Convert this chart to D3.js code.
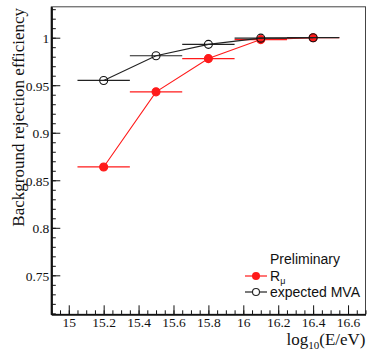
<!DOCTYPE html>
<html><head><meta charset="utf-8">
<script src="https://cdn.jsdelivr.net/npm/d3@7"></script>
<style>
html,body{margin:0;padding:0;background:#fff;}
svg{display:block;}
</style>
</head><body>
<svg id="c" width="367" height="351"></svg>
<script>
// ---- data ----
const energies = [15.2, 15.5, 15.8, 16.1, 16.4];
const energyErr = [0.15, 0.15, 0.15, 0.15, 0.15];
const rmuValues = [0.864, 0.943, 0.978, 0.998, 1.0];
const mvaValues = [0.955, 0.981, 0.993, 0.9995, 1.0];
const xMajorTicks = [15, 15.2, 15.4, 15.6, 15.8, 16, 16.2, 16.4, 16.6];
const xTickLabels = ["15", "15.2", "15.4", "15.6", "15.8", "16", "16.2", "16.4", "16.6"];
const yMajorTicks = [0.75, 0.8, 0.85, 0.9, 0.95, 1];
const yTickLabels = ["0.75", "0.8", "0.85", "0.9", "0.95", "1"];
const legendLabels = ["Preliminary", "R", "expected MVA"];

const svg = d3.select("#c");
const L = 51.3, R = 365.5, T = 6.8, B = 314.3;
const x = d3.scaleLinear().domain([14.9, 16.7]).range([L, R]);
const y = d3.scaleLinear().domain([0.709, 1.0325]).range([B, T]);

const serif = "'Liberation Serif','Times New Roman',serif";
const sans = "'Liberation Sans',Arial,sans-serif";

// frame
svg.append("rect").attr("x", L).attr("y", T).attr("width", R - L).attr("height", B - T)
  .attr("fill", "none").attr("stroke", "#444").attr("stroke-width", 1);

// minor ticks
const xMinor = d3.range(14.9, 16.7001, 0.05).map(v => +v.toFixed(2));
const yMinor = d3.range(0.71, 1.0326, 0.01).map(v => +v.toFixed(2));

const gx = svg.append("g").attr("transform", `translate(0,${B})`);
gx.call(d3.axisBottom(x).tickValues(xMinor).tickSizeInner(-4).tickSizeOuter(0).tickFormat(""));
gx.append("g").call(d3.axisBottom(x).tickValues(xMajorTicks).tickSizeInner(-9).tickSizeOuter(0)
  .tickPadding(12.5).tickFormat((d, i) => xTickLabels[i]));
gx.selectAll(".domain").attr("stroke", "#111").attr("stroke-width", 1.6);
gx.selectAll("line").attr("stroke", "#111").attr("stroke-width", 1);
gx.selectAll("text").attr("font-family", serif).attr("font-size", 13.5).attr("fill", "#111")
  .attr("dy", "0");

const gy = svg.append("g").attr("transform", `translate(${L},0)`);
gy.call(d3.axisLeft(y).tickValues(yMinor).tickSizeInner(-4.5).tickSizeOuter(0).tickFormat(""));
gy.append("g").call(d3.axisLeft(y).tickValues(yMajorTicks).tickSizeInner(-9).tickSizeOuter(0)
  .tickPadding(2).tickFormat((d, i) => yTickLabels[i]));
gy.selectAll(".domain").attr("stroke", "#111").attr("stroke-width", 1.8);
gy.selectAll("line").attr("stroke", "#111").attr("stroke-width", 1);
gy.selectAll("text").attr("font-family", serif).attr("font-size", 13.5).attr("fill", "#111")
  .attr("dy", "0.36em");
svg.selectAll(".tick text").attr("font-size", 13.5);

// axis titles
svg.append("text").attr("x", R).attr("y", 344.5).attr("text-anchor", "end")
  .attr("font-family", serif).attr("font-size", 17).attr("fill", "#111")
  .call(t => {
    t.append("tspan").text("log");
    t.append("tspan").attr("font-size", 11).attr("dy", 4).text("10");
    t.append("tspan").attr("dy", -4).text("(E/eV)");
  });
svg.append("text").attr("transform", `translate(24,8) rotate(-90)`).attr("text-anchor", "end")
  .attr("font-family", serif).attr("font-size", 17).attr("fill", "#111")
  .text("Background rejection efficiency");

// series
function drawSeries(vals, color, filled) {
  const g = svg.append("g");
  const pts = energies.map((e, i) => [e, vals[i], energyErr[i]]);
  g.selectAll("line.err").data(pts).enter().append("line")
    .attr("x1", d => x(d[0] - d[2])).attr("x2", d => x(d[0] + d[2]))
    .attr("y1", d => y(d[1])).attr("y2", d => y(d[1]))
    .attr("stroke", color).attr("stroke-width", 1.2);
  g.append("path").datum(pts)
    .attr("d", d3.line().x(d => x(d[0])).y(d => y(d[1])))
    .attr("fill", "none").attr("stroke", color).attr("stroke-width", 1.1);
  g.selectAll("circle").data(pts).enter().append("circle")
    .attr("cx", d => x(d[0])).attr("cy", d => y(d[1])).attr("r", 4)
    .attr("fill", filled ? color : "none").attr("stroke", filled ? color : "#111").attr("stroke-width", 1.1);
}
drawSeries(rmuValues, "#ff1a1a", true);
drawSeries(mvaValues, "#222", false);

// legend
const lg = svg.append("g").attr("font-family", sans).attr("font-size", 14).attr("fill", "#111");
lg.append("text").attr("x", 270).attr("y", 264).text(legendLabels[0]);
lg.append("line").attr("x1", 245).attr("x2", 267).attr("y1", 276).attr("y2", 276)
  .attr("stroke", "#ff1a1a").attr("stroke-width", 1.2);
lg.append("circle").attr("cx", 256).attr("cy", 276).attr("r", 4).attr("fill", "#ff1a1a");
lg.append("text").attr("x", 270).attr("y", 280.5)
  .call(t => {
    t.append("tspan").text(legendLabels[1]);
    t.append("tspan").attr("font-size", 9).attr("dy", 3).text("μ");
  });
lg.append("line").attr("x1", 245).attr("x2", 267).attr("y1", 292).attr("y2", 292)
  .attr("stroke", "#222").attr("stroke-width", 1.2);
lg.append("circle").attr("cx", 256).attr("cy", 292).attr("r", 3.5).attr("fill", "#fff")
  .attr("stroke", "#222").attr("stroke-width", 1.1);
lg.append("text").attr("x", 270).attr("y", 297).text(legendLabels[2]);
</script>
</body></html>
